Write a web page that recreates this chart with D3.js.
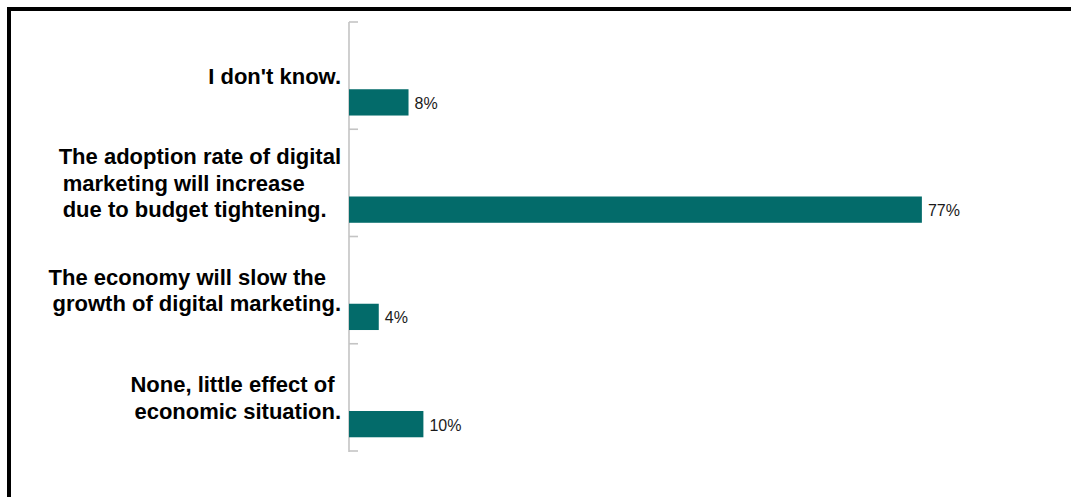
<!DOCTYPE html>
<html>
<head>
<meta charset="utf-8">
<script src="https://cdn.jsdelivr.net/npm/d3@7"></script>
<style>
  html, body { margin: 0; padding: 0; background: #fff; overflow: hidden; }
  svg { display: block; }
</style>
</head>
<body>
<svg id="chart" width="1071" height="497"></svg>
<script>
// Survey answers, top to bottom, with the line breaks used in the axis labels
const categories = [
  "I don't know.",
  "The adoption rate of digital\nmarketing will increase\ndue to budget tightening.",
  "The economy will slow the\ngrowth of digital marketing.",
  "None, little effect of\neconomic situation."
];
const shares = [8, 77, 4, 10];
const valueLabels = ["8%", "77%", "4%", "10%"];

const svg = d3.select("#chart");

// Outer frame
svg.append("rect")
  .attr("x", 9).attr("y", 9)
  .attr("width", 1200).attr("height", 700)
  .attr("fill", "none")
  .attr("stroke", "#000")
  .attr("stroke-width", 4);

const axisX = 349;
const y = d3.scaleBand()
  .domain(categories)
  .range([22, 451])
  .paddingInner(0).paddingOuter(0);

const x = d3.scaleLinear()
  .domain([0, 100])
  .range([axisX, axisX + 744]);

// Category axis: vertical rule with tick marks at the band boundaries
const boundaries = categories.map(c => y(c)).concat([y.range()[1]]);
const axisG = svg.append("g");
axisG.append("line")
  .attr("x1", axisX).attr("x2", axisX)
  .attr("y1", y.range()[0]).attr("y2", y.range()[1] + 1)
  .attr("stroke", "#c4c4c4").attr("stroke-width", 1.6);
axisG.selectAll("line.tick")
  .data(boundaries)
  .join("line")
  .attr("class", "tick")
  .attr("x1", axisX).attr("x2", axisX + 9)
  .attr("y1", d => d).attr("y2", d => d)
  .attr("stroke", "#c4c4c4").attr("stroke-width", 1.6);

// Bars sit in the lower part of each band
const bw = y.bandwidth();
const rows = categories.map((c, i) => ({ c, v: shares[i], label: valueLabels[i] }));

svg.selectAll("rect.bar")
  .data(rows)
  .join("rect")
  .attr("class", "bar")
  .attr("x", x(0))
  .attr("y", d => y(d.c) + bw * 0.627)
  .attr("width", d => x(d.v) - x(0))
  .attr("height", bw * 0.245)
  .attr("fill", "#036b6a");

svg.selectAll("text.value")
  .data(rows)
  .join("text")
  .attr("class", "value")
  .attr("x", d => x(d.v) + 6)
  .attr("y", d => y(d.c) + bw * 0.627 + bw * 0.1225)
  .attr("dy", "0.4em")
  .attr("font-family", "'Liberation Sans', Arial, sans-serif")
  .attr("font-size", 16)
  .attr("fill", "#1a1a1a")
  .text(d => d.label);

// Category labels: left-aligned block whose widest line ends just left of the axis
const fontSize = 22;
const lineH = 26.5;
const indent = 4;
const rightEdge = 341;

rows.forEach(d => {
  const lines = d.c.split("\n");
  const g = svg.append("text")
    .attr("font-family", "'Liberation Sans', Arial, sans-serif")
    .attr("font-weight", "bold")
    .attr("font-size", fontSize)
    .attr("fill", "#000");
  const spans = lines.map((t, i) => g.append("tspan").text(t));
  const widths = spans.map((s, i) => s.node().getComputedTextLength() + (i > 0 ? indent : 0));
  const left = rightEdge - d3.max(widths);
  const mid = y(d.c) + bw / 2;
  const firstBaseline = mid - (lines.length - 1) * lineH / 2 + fontSize * 0.36;
  spans.forEach((s, i) => {
    s.attr("x", left + (i > 0 ? indent : 0))
     .attr("y", firstBaseline + i * lineH);
  });
});
</script>
</body>
</html>
